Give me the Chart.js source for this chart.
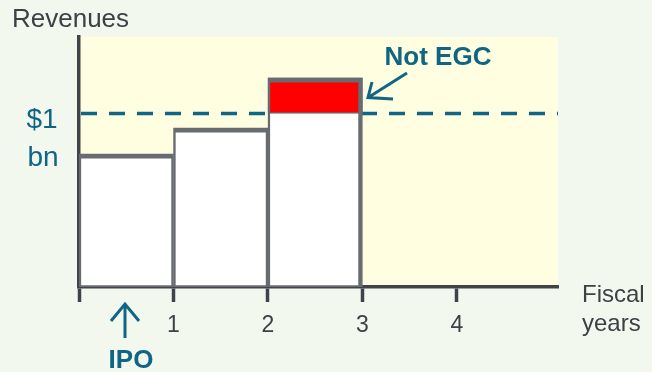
<!DOCTYPE html>
<html>
<head>
<meta charset="utf-8">
<script src="https://cdn.jsdelivr.net/npm/chart.js@4/dist/chart.umd.min.js"></script>
<style>
  html, body { margin: 0; padding: 0; background: #f3f8ef; }
  #wrap { width: 652px; height: 372px; }
</style>
</head>
<body>
<div id="wrap"><canvas id="c" width="652" height="372"></canvas></div>
<script>
// Fiscal years after the IPO and revenue in each year ($bn)
const fiscalYears = [1, 2, 3];
const revenues = [0.767, 0.918, 1.206];
// Revenue limit for emerging growth company status ($bn)
const egcThreshold = 1.0;
// Fiscal-year axis ticks and their labels
const xTickValues = [0, 1, 2, 3, 4];
const xTickLabels = ['', '1', '2', '3', '4'];

const FONT = '"Liberation Sans", Arial, Helvetica, sans-serif';
const TEAL = '#0f6584';
const BORDER_GREY = '#686b6f';
const AXIS_DARK = '#40444a';
const TEXT_DARK = '#3d4146';

// Each fiscal year spans one unit on the x axis; bars sit at the middle of it
const yearBars = fiscalYears.map((yr, i) => ({ x: yr - 0.5, y: revenues[i] }));
// Portion of revenue above the EGC limit
const overLimit = fiscalYears
  .map((yr, i) => ({ x: yr - 0.5, y: [egcThreshold, revenues[i]] }))
  .filter(p => p.y[1] > p.y[0]);

const lastIdx = fiscalYears.length - 1;

const decorations = {
  id: 'decorations',
  beforeDraw(chart) {
    const { ctx, chartArea: a } = chart;
    ctx.save();
    ctx.fillStyle = '#f3f8ef';
    ctx.fillRect(0, 0, chart.width, chart.height);
    ctx.fillStyle = '#fffee0';
    ctx.fillRect(a.left, a.top, a.right - a.left, a.bottom - a.top);
    ctx.restore();
  },
  beforeDatasetsDraw(chart) {
    const { ctx, chartArea: a, scales } = chart;
    const y = scales.y.getPixelForValue(egcThreshold);
    ctx.save();
    ctx.strokeStyle = TEAL;
    ctx.lineWidth = 3.5;
    ctx.setLineDash([16, 12]);
    ctx.beginPath();
    ctx.moveTo(a.left + 2, y);
    ctx.lineTo(a.right, y);
    ctx.stroke();
    ctx.restore();
  },
  afterDraw(chart) {
    const { ctx, scales } = chart;
    const yT = scales.y.getPixelForValue(egcThreshold);
    ctx.save();
    ctx.textBaseline = 'alphabetic';

    // Axis titles
    ctx.fillStyle = TEXT_DARK;
    ctx.font = '26px ' + FONT;
    ctx.textAlign = 'left';
    ctx.fillText('Revenues', 12, 27);
    ctx.font = '24px ' + FONT;
    ctx.fillText('Fiscal', 582, 302);
    ctx.fillText('years', 582, 331);

    // Threshold label
    ctx.fillStyle = TEAL;
    ctx.font = '28px ' + FONT;
    ctx.textAlign = 'center';
    ctx.fillText('$1', 42, yT + 14);
    ctx.fillText('bn', 43, yT + 52);

    // "Not EGC" callout
    ctx.font = 'bold 26px ' + FONT;
    ctx.fillText('Not EGC', 438, 65);
    ctx.strokeStyle = TEAL;
    ctx.lineWidth = 3;
    ctx.lineCap = 'butt';
    ctx.beginPath();
    ctx.moveTo(407, 73);
    ctx.lineTo(369, 97);
    ctx.moveTo(372, 82);
    ctx.lineTo(368, 97.5);
    ctx.lineTo(393, 99);
    ctx.stroke();

    // IPO marker
    const xIpo = 125;
    ctx.beginPath();
    ctx.moveTo(xIpo, 338);
    ctx.lineTo(xIpo, 304);
    ctx.moveTo(xIpo - 14, 321);
    ctx.lineTo(xIpo, 304);
    ctx.lineTo(xIpo + 14, 321);
    ctx.stroke();
    ctx.fillText('IPO', 131, 368);
    ctx.restore();
  }
};

new Chart(document.getElementById('c'), {
  type: 'bar',
  data: {
    datasets: [
      {
        label: 'Above EGC limit',
        data: overLimit,
        backgroundColor: '#ff0000',
        borderColor: BORDER_GREY,
        borderWidth: { top: 5, left: 2.5, right: 4.5, bottom: 1.5 },
        borderSkipped: false,
        grouped: false,
        barPercentage: 1,
        categoryPercentage: 1
      },
      {
        label: 'Revenues',
        data: yearBars,
        backgroundColor: '#ffffff',
        borderColor: BORDER_GREY,
        borderWidth: fiscalYears.map((_, i) => ({
          top: 5, left: 2.5, right: i === lastIdx ? 4.5 : 2.5, bottom: 2
        })),
        borderSkipped: false,
        grouped: false,
        barPercentage: 1,
        categoryPercentage: 1
      }
    ]
  },
  options: {
    responsive: false,
    animation: false,
    layout: { padding: { left: 79, top: 37, right: 94, bottom: 0 } },
    plugins: { legend: { display: false }, tooltip: { enabled: false } },
    scales: {
      x: {
        type: 'linear',
        offset: false,
        min: 0,
        max: 5.07,
        afterBuildTicks(scale) {
          scale.ticks = xTickValues.map(v => ({ value: v }));
        },
        afterFit(scale) { scale.height = 85; },
        ticks: {
          autoSkip: false,
          maxRotation: 0,
          padding: 10,
          color: TEXT_DARK,
          font: { family: FONT, size: 23 },
          callback: (v) => xTickLabels[xTickValues.indexOf(v)] ?? ''
        },
        grid: {
          offset: false,
          drawOnChartArea: false,
          drawTicks: true,
          tickLength: 15,
          tickWidth: 3.5,
          tickColor: AXIS_DARK
        },
        border: { display: true, color: AXIS_DARK, width: 3.5 }
      },
      y: {
        min: 0,
        max: 1.441,
        afterFit(scale) { scale.width = 0; },
        ticks: { display: false },
        grid: { display: false, drawTicks: false },
        border: { display: true, color: AXIS_DARK, width: 3.5 }
      }
    }
  },
  plugins: [decorations]
});
</script>
</body>
</html>
